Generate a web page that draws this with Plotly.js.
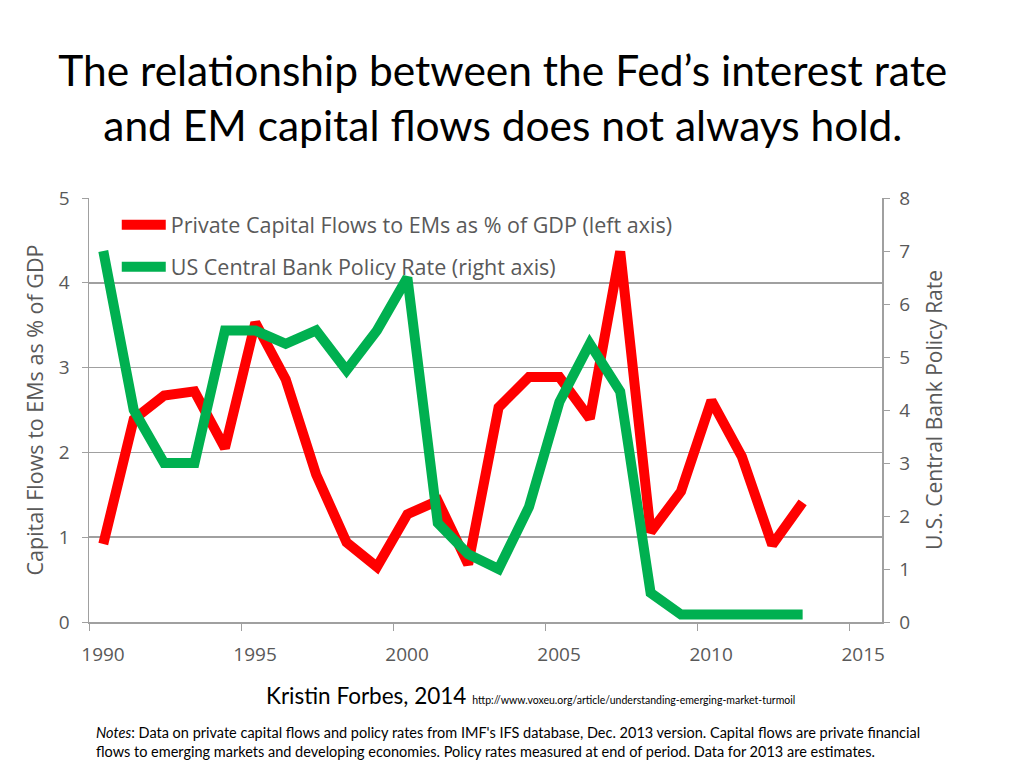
<!DOCTYPE html>
<html>
<head>
<meta charset="utf-8">
<script src="https://cdn.plot.ly/plotly-3.0.1.min.js"></script>
<style>
  body { margin: 0; background: #fff; }
  #chart { width: 1024px; height: 768px; }
</style>
</head>
<body>
<div id="chart"></div>
<script>
// years of observation (plotted mid-year)
var years = [1990, 1991, 1992, 1993, 1994, 1995, 1996, 1997, 1998, 1999, 2000, 2001,
             2002, 2003, 2004, 2005, 2006, 2007, 2008, 2009, 2010, 2011, 2012, 2013];

// private capital flows to EMs, % of GDP (left axis)
var capitalFlows = [0.92, 2.39, 2.67, 2.72, 2.05, 3.53, 2.86, 1.74, 0.94, 0.65, 1.27, 1.43,
                    0.68, 2.53, 2.89, 2.89, 2.40, 4.37, 1.06, 1.54, 2.61, 1.95, 0.91, 1.41];

// US policy rate, % (right axis)
var policyRate = [7.0, 4.0, 3.0, 3.0, 5.5, 5.5, 5.25, 5.5, 4.75, 5.5, 6.5, 1.87,
                  1.28, 1.0, 2.17, 4.15, 5.25, 4.35, 0.55, 0.14, 0.14, 0.14, 0.14, 0.14];

var xTicks = [1990, 1995, 2000, 2005, 2010, 2015];

var xs = years.map(function (y) { return y + 0.47; });

var red = {
  x: xs, y: capitalFlows,
  name: 'Private Capital Flows to EMs as % of GDP (left axis)',
  type: 'scatter', mode: 'lines',
  line: { color: '#ff0000', width: 10 },
  legendgroup: 'a'
};

var green = {
  x: xs, y: policyRate,
  name: 'US Central Bank Policy Rate (right axis)',
  type: 'scatter', mode: 'lines', yaxis: 'y2',
  line: { color: '#00b050', width: 10 },
  legendgroup: 'b'
};

var axisFont = { family: 'Open Sans, sans-serif', size: 19, color: '#595959' };
var titleFont = { family: 'Open Sans, sans-serif', size: 21.5, color: '#595959' };

var layout = {
  width: 1024, height: 768,
  margin: { l: 89, r: 142, t: 198, b: 146 },
  paper_bgcolor: '#fff', plot_bgcolor: '#fff',
  showlegend: true,
  title: {
    text: 'The relationship between the Fed’s interest rate<br>and EM capital flows does not always hold.',
    font: { family: 'Lato, sans-serif', size: 42.5, color: '#000' },
    x: 0.491, xanchor: 'center', xref: 'container',
    y: 0.888, yanchor: 'middle'
  },
  xaxis: {
    range: [1990, 2016.08],
    tickvals: xTicks,
    ticks: 'outside', ticklen: 7, tickcolor: '#a0a0a0',
    showline: true, linecolor: '#a0a0a0', linewidth: 1.5,
    showgrid: false, zeroline: false,
    tickfont: axisFont,
    ticklabelshift: 14, ticklabelstandoff: 8
  },
  yaxis: {
    range: [0, 5], dtick: 1,
    ticks: 'outside', ticklen: 6, tickcolor: '#a0a0a0',
    showline: true, linecolor: '#a0a0a0', linewidth: 1.5,
    showgrid: true, gridcolor: '#a0a0a0', gridwidth: 1.5,
    zeroline: false,
    tickfont: axisFont, ticklabelstandoff: 8,
    title: { text: 'Capital Flows to EMs as % of GDP', font: titleFont, standoff: 9 }
  },
  yaxis2: {
    range: [0, 8], dtick: 1,
    overlaying: 'y', side: 'right',
    ticks: 'outside', ticklen: 6, tickcolor: '#a0a0a0',
    showline: true, linecolor: '#a0a0a0', linewidth: 1.5,
    showgrid: false, zeroline: false,
    tickfont: axisFont, ticklabelstandoff: 6,
    title: { text: 'U.S. Central Bank Policy Rate', font: { family: 'Open Sans, sans-serif', size: 21, color: '#595959' }, standoff: 18 }
  },
  legend: {
    x: 0.035, y: 0.985, xanchor: 'left', yanchor: 'top',
    bgcolor: 'rgba(0,0,0,0)',
    font: { family: 'Open Sans, sans-serif', size: 21.5, color: '#595959' },
    traceorder: 'grouped', tracegroupgap: 11,
    itemwidth: 44
  },
  annotations: [
    {
      xref: 'paper', yref: 'paper', x: (264 - 89) / 793, y: (768 - 695 - 146) / 422,
      xanchor: 'left', yanchor: 'middle', showarrow: false,
      text: 'Kristin Forbes, 2014 <span style="font-size:10.5px">http://www.voxeu.org/article/understanding-emerging-market-turmoil</span>',
      font: { family: 'Lato, sans-serif', size: 22.5, color: '#000' }
    },
    {
      xref: 'paper', yref: 'paper', x: (94 - 89) / 793, y: (768 - 741 - 146) / 422,
      xanchor: 'left', yanchor: 'middle', showarrow: false, align: 'left',
      text: '<i>Notes</i>: Data on private capital flows and policy rates from IMF\'s IFS database, Dec. 2013 version. Capital flows are private financial<br>flows to emerging markets and developing economies. Policy rates measured at end of period. Data for 2013 are estimates.',
      font: { family: 'Lato, sans-serif', size: 14.5, color: '#000' }
    }
  ]
};

Plotly.newPlot('chart', [red, green], layout, { displayModeBar: false, staticPlot: true });
</script>
</body>
</html>
